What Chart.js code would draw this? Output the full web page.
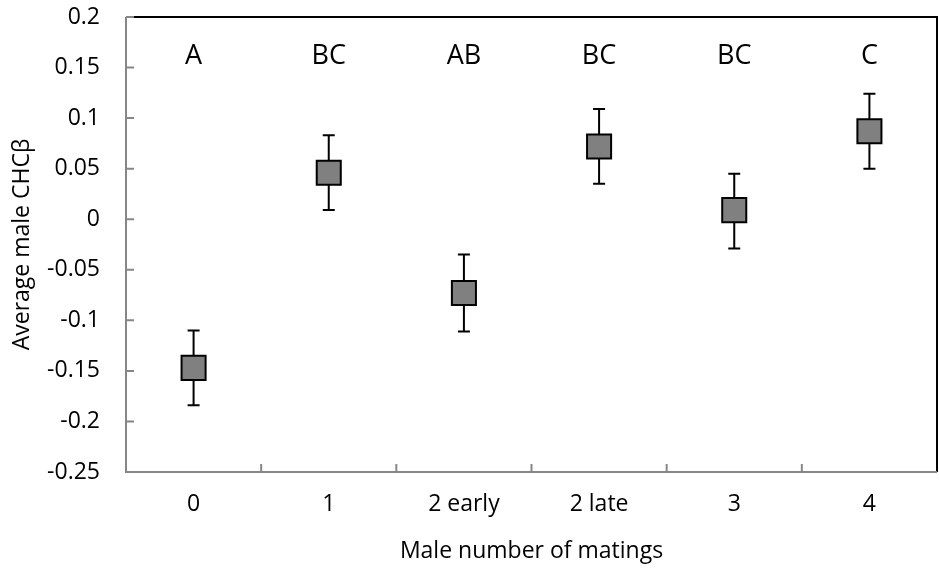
<!DOCTYPE html>
<html>
<head>
<meta charset="utf-8">
<script src="https://cdn.jsdelivr.net/npm/chart.js@4"></script>
<style>
  html, body { margin: 0; padding: 0; background: #fff; }
  #wrap { width: 939px; height: 572px; }
</style>
</head>
<body>
<div id="wrap"><canvas id="chhcChart"></canvas></div>
<script>
// data
var categories = ["0", "1", "2 early", "2 late", "3", "4"];
var means = [-0.147, 0.046, -0.073, 0.072, 0.009, 0.087];
var lower = [-0.184, 0.009, -0.111, 0.035, -0.029, 0.050];
var upper = [-0.110, 0.083, -0.035, 0.109, 0.045, 0.124];
var groupLetters = ["A", "BC", "AB", "BC", "BC", "C"];
var yTicks = [0.2, 0.15, 0.1, 0.05, 0, -0.05, -0.1, -0.15, -0.2, -0.25];

var FONT = "'Open Sans', sans-serif";

var extrasPlugin = {
    id: 'extras',
    beforeDatasetsDraw: function (chart) {
        var ctx = chart.ctx;
        var xs = chart.scales.x, ys = chart.scales.y;
        ctx.save();
        ctx.strokeStyle = '#000';
        ctx.lineWidth = 2;
        for (var i = 0; i < means.length; i++) {
            var x = xs.getPixelForValue(i);
            var yl = ys.getPixelForValue(lower[i]);
            var yu = ys.getPixelForValue(upper[i]);
            ctx.beginPath();
            ctx.moveTo(x, yl); ctx.lineTo(x, yu);
            ctx.moveTo(x - 6, yl); ctx.lineTo(x + 6, yl);
            ctx.moveTo(x - 6, yu); ctx.lineTo(x + 6, yu);
            ctx.stroke();
        }
        ctx.restore();
    },
    afterDraw: function (chart) {
        var ctx = chart.ctx;
        var a = chart.chartArea;
        var xs = chart.scales.x, ys = chart.scales.y;
        ctx.save();
        // top + right frame (black)
        ctx.strokeStyle = '#000';
        ctx.lineWidth = 2;
        ctx.beginPath();
        ctx.moveTo(a.left, a.top); ctx.lineTo(a.right, a.top); ctx.lineTo(a.right, a.bottom);
        ctx.stroke();
        // left + bottom axes (gray) with inside ticks
        ctx.strokeStyle = '#868686';
        ctx.beginPath();
        ctx.moveTo(a.left, a.top); ctx.lineTo(a.left, a.bottom); ctx.lineTo(a.right, a.bottom);
        ctx.stroke();
        ctx.beginPath();
        yTicks.forEach(function (v) {
            var y = ys.getPixelForValue(v);
            ctx.moveTo(a.left, y); ctx.lineTo(a.left + 8, y);
        });
        for (var i = 1; i < categories.length; i++) {
            var xb = (xs.getPixelForValue(i - 1) + xs.getPixelForValue(i)) / 2;
            ctx.moveTo(xb, a.bottom); ctx.lineTo(xb, a.bottom - 8);
        }
        ctx.stroke();
        // group letters
        ctx.fillStyle = '#000';
        ctx.font = '27px ' + FONT;
        ctx.textAlign = 'center';
        ctx.textBaseline = 'middle';
        for (var j = 0; j < groupLetters.length; j++) {
            ctx.fillText(groupLetters[j], xs.getPixelForValue(j), a.top + 39);
        }
        ctx.restore();
    }
};

new Chart(document.getElementById('chhcChart').getContext('2d'), {
    type: 'line',
    data: {
        labels: categories,
        datasets: [{
            label: 'Average male CHCβ',
            data: means,
            showLine: false,
            pointStyle: 'rect',
            pointRadius: 17,
            pointHoverRadius: 17,
            pointBackgroundColor: '#808080',
            pointBorderColor: '#000',
            pointBorderWidth: 2
        }]
    },
    options: {
        responsive: true,
        maintainAspectRatio: false,
        animation: false,
        layout: { autoPadding: false, padding: { top: 17, right: 2, left: 0, bottom: 0 } },
        plugins: {
            legend: { display: false },
            tooltip: { enabled: false }
        },
        scales: {
            x: {
                type: 'category',
                offset: true,
                afterFit: function (s) {
                    s.height = 100;
                    s.paddingLeft = 0; s.paddingRight = 0;
                },
                grid: { display: false, drawTicks: false },
                border: { display: false },
                ticks: {
                    padding: 19,
                    color: '#000',
                    font: { size: 23, family: FONT }
                },
                title: {
                    display: true,
                    text: 'Male number of matings',
                    color: '#000',
                    padding: { top: 0, bottom: 7 },
                    font: { size: 23, family: FONT }
                }
            },
            y: {
                min: -0.25,
                max: 0.2,
                afterFit: function (s) {
                    s.width = 126;
                    s.paddingTop = 0; s.paddingBottom = 0;
                },
                afterBuildTicks: function (s) {
                    s.ticks = yTicks.map(function (v) { return { value: v }; });
                },
                grid: { display: false, drawTicks: false },
                border: { display: false },
                ticks: {
                    padding: 26,
                    color: '#000',
                    font: { size: 23, family: FONT },
                    callback: function (v) { return String(Number(v.toFixed(2))); }
                },
                title: {
                    display: true,
                    text: 'Average male CHCβ',
                    color: '#000',
                    padding: { top: 9, bottom: 0 },
                    font: { size: 23, family: FONT }
                }
            }
        }
    },
    plugins: [extrasPlugin]
});
</script>
</body>
</html>
